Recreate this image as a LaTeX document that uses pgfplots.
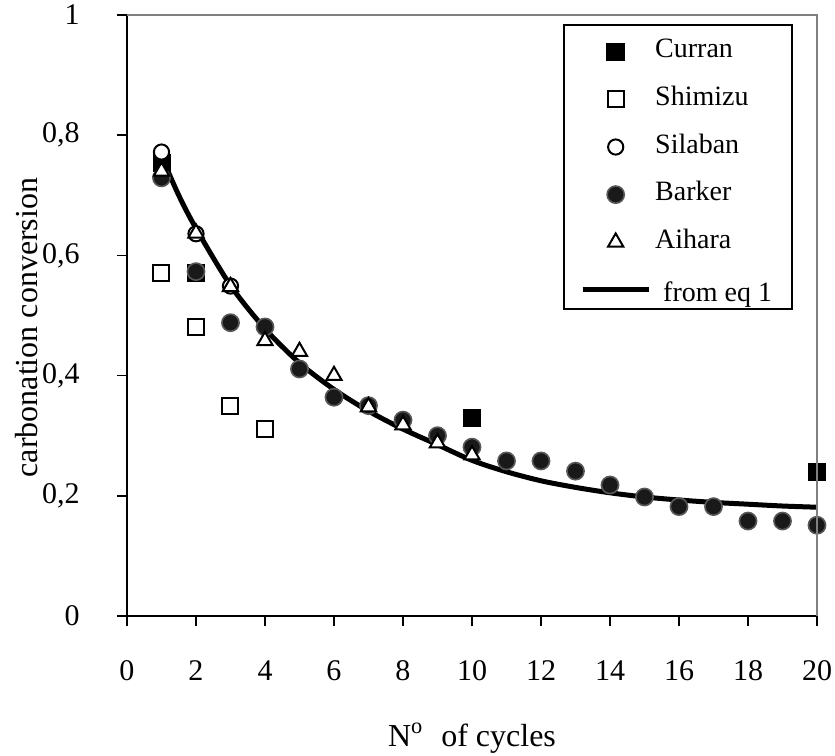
\documentclass[border=0pt]{standalone}
\usepackage{fontspec}
\setmainfont{Liberation Serif}
\usepackage{pgfplots}
\pgfplotsset{compat=1.18}

% data
\pgfplotstableread{
N y
1 0.754
2 0.571
10 0.329
20 0.239
}\curran
\pgfplotstableread{
N y
1 0.571
2 0.481
3 0.349
4 0.311
}\shimizu
\pgfplotstableread{
N y
1 0.772
2 0.636
3 0.549
}\silaban
\pgfplotstableread{
N y
1 0.729
2 0.573
3 0.488
4 0.481
5 0.411
6 0.364
7 0.350
8 0.326
9 0.300
10 0.281
11 0.258
12 0.258
13 0.241
14 0.218
15 0.198
16 0.182
17 0.182
18 0.158
19 0.158
20 0.151
}\barker
\pgfplotstableread{
N y
1 0.740
2 0.637
3 0.548
4 0.458
5 0.440
6 0.400
7 0.348
8 0.318
9 0.288
10 0.268
}\aihara
\pgfplotstableread{
N y
1 0.765
1.5 0.700
2 0.645
3 0.550
4 0.478
5 0.421
6 0.377
7 0.341
8 0.311
9 0.285
10 0.259
11 0.240
12 0.225
13 0.214
14 0.205
15 0.198
16 0.193
17 0.189
18 0.186
19 0.183
20 0.181
}\eqone

\begin{document}
\begin{tikzpicture}
\begin{axis}[
  name=ax,
  scale only axis,
  width=345pt, height=300.5pt,
  xmin=0, xmax=20, ymin=0, ymax=1,
  axis x line*=bottom, axis y line*=left,
  axis line style={black, line width=1pt},
  xtick={0,2,...,20},
  ytick={0,0.2,0.4,0.6,0.8,1},
  yticklabels={0,{0,2},{0,4},{0,6},{0,8},1},
  tick align=outside,
  major tick length=5pt,
  tick style={black, line width=0.7pt},
  /pgf/number format/assume math mode=true,
  tick label style={font=\fontsize{15}{18}\selectfont},
  xticklabel style={anchor=center, yshift=-22.5pt},
  yticklabel style={anchor=east, inner sep=0pt, xshift=-18.5pt},
  every axis x label/.style={at={(axis description cs:0.5,0)}, anchor=center, yshift=-61pt},
  every axis y label/.style={at={(axis description cs:-0.145,0.48)}, anchor=center, rotate=90},
  label style={font=\fontsize{16}{19}\selectfont},
  xlabel={N\textsuperscript{o}\hspace{5pt} of cycles},
  ylabel={carbonation conversion},
  clip=false,
  legend image code/.code={\draw[mark repeat=2,mark phase=2,#1] plot coordinates {(0pt,-2pt) (16.5pt,-2pt) (33pt,-2pt)};},
  legend style={at={(axis description cs:0.965,0.985)}, anchor=north east,
    draw=black, line width=0.8pt, inner xsep=8pt, inner ysep=3pt, row sep=6.8pt, column sep=0pt,
    font=\fontsize{14}{16}\selectfont,
    cells={anchor=west, text height=11.5pt, text depth=1.5pt, inner xsep=1pt, inner ysep=1pt}},
]
\addplot[only marks, mark=square*, mark size=4.25pt, fill=black, draw=black] table {\curran};
\addlegendentry{Curran}
\addplot[only marks, mark=square*, mark size=4pt, fill=white, draw=black, line width=1pt] table {\shimizu};
\addlegendentry{Shimizu}
\addplot[only marks, mark=*, mark size=3.8pt, fill=white, draw=black, line width=1pt] table {\silaban};
\addlegendentry{Silaban}
\addplot[only marks, mark=*, mark size=4.3pt, fill=black!90, draw=black!65, line width=0.8pt] table {\barker};
\addlegendentry{Barker}
\addplot[only marks, mark=triangle*, mark size=4.4pt, fill=white, draw=black, line width=1pt] table {\aihara};
\addlegendentry{Aihara}
\addplot[black, line width=2.5pt, smooth, no marks] table {\eqone};
\addlegendentry{\hspace*{4pt}\raisebox{-3pt}{from eq 1}}
\end{axis}
\draw[gray, line width=1pt] (ax.north west) -- (ax.north east) -- (ax.south east);
\pgfresetboundingbox
\path ([shift={(-63.5pt,-69.5pt)}]ax.south west) rectangle ([shift={(9pt,7.5pt)}]ax.north east);
\end{tikzpicture}
\end{document}
